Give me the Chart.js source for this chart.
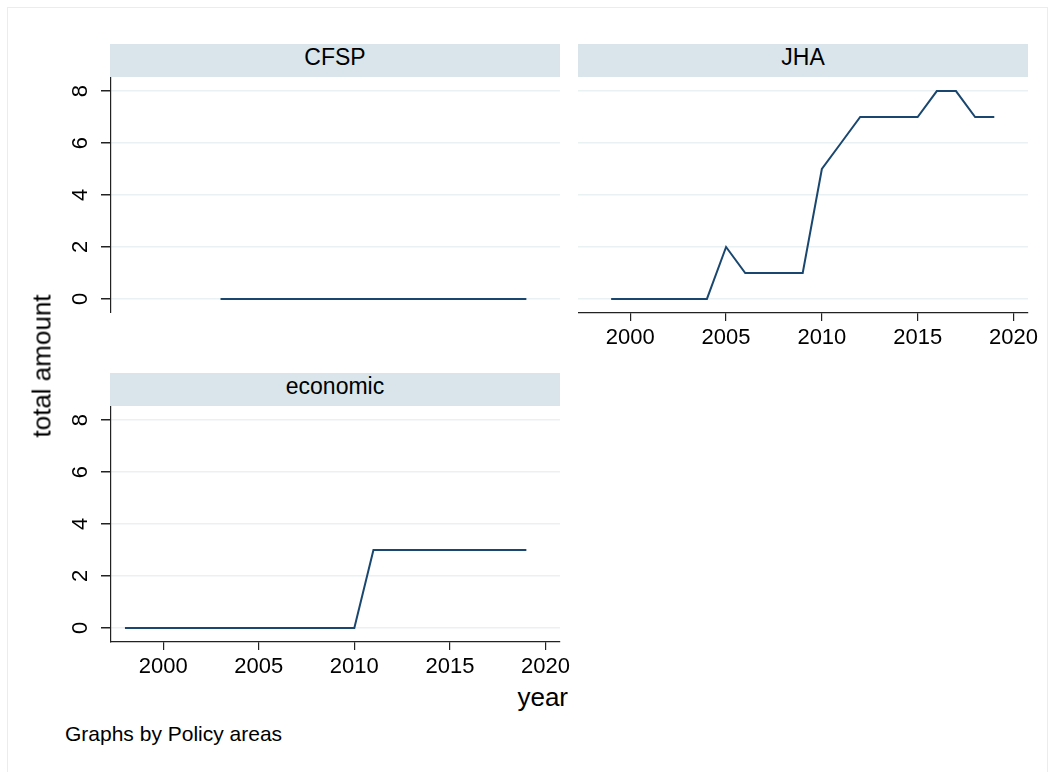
<!DOCTYPE html>
<html>
<head>
<meta charset="utf-8">
<script src="https://cdn.jsdelivr.net/npm/chart.js@4.4.1/dist/chart.umd.min.js"></script>
<style>
    body { margin: 0; background: #fff; font-family: "Liberation Sans", Arial, sans-serif; }
    #page { position: relative; width: 1053px; height: 772px; overflow: hidden; background: #fff; }
    .frame { position: absolute; left: 7px; top: 7px; width: 1039px; height: 790px; border: 1px solid #e6eef0; }
    .strip { position: absolute; height: 33px; background: #d9e5eb; color: #000; font-size: 23px; line-height: 26px; text-align: center; }
    canvas { position: absolute; }
    .txt { position: absolute; color: #000; white-space: nowrap; }
</style>
</head>
<body>
<div id="page">
    <div class="frame"></div>

    <div class="strip" style="left:110px; top:44px; width:450px;">CFSP</div>
    <div class="strip" style="left:578px; top:44px; width:450px;">JHA</div>
    <div class="strip" style="left:110px; top:373px; width:450px;">economic</div>

    <canvas id="cfspChart" width="509" height="236" style="left:51px; top:77px;"></canvas>
    <canvas id="jhaChart" width="475" height="276" style="left:578px; top:77px;"></canvas>
    <canvas id="econChart" width="534" height="276" style="left:51px; top:406px;"></canvas>

    <div class="txt" style="left:42px; top:366px; font-size:26px; transform:translate(-50%,-50%) rotate(-90deg);">total amount</div>
    <div class="txt" style="right:485px; top:682px; font-size:26px;">year</div>
    <div class="txt" style="left:65px; top:722px; font-size:21px;">Graphs by Policy areas</div>
</div>

<script>
// Datos por área (años y cantidad total)
const cfspYears = [2003, 2004, 2005, 2006, 2007, 2008, 2009, 2010, 2011, 2012, 2013, 2014, 2015, 2016, 2017, 2018, 2019];
const cfspAmount = [0, 0, 0, 0, 0, 0, 0, 0, 0, 0, 0, 0, 0, 0, 0, 0, 0];

const jhaYears = [1999, 2000, 2001, 2002, 2003, 2004, 2005, 2006, 2007, 2008, 2009, 2010, 2011, 2012, 2013, 2014, 2015, 2016, 2017, 2018, 2019];
const jhaAmount = [0, 0, 0, 0, 0, 0, 2, 1, 1, 1, 1, 5, 6, 7, 7, 7, 7, 8, 8, 7, 7];

const econYears = [1998, 1999, 2000, 2001, 2002, 2003, 2004, 2005, 2006, 2007, 2008, 2009, 2010, 2011, 2012, 2013, 2014, 2015, 2016, 2017, 2018, 2019];
const econAmount = [0, 0, 0, 0, 0, 0, 0, 0, 0, 0, 0, 0, 0, 3, 3, 3, 3, 3, 3, 3, 3, 3];

// Etiquetas de los ejes
const xTicks = [2000, 2005, 2010, 2015, 2020];
const yTicks = [0, 2, 4, 6, 8];

const FONT = '"Liberation Sans", Arial, sans-serif';
const LINE_COLOR = '#1a476f';
const GRID_COLOR = '#eaf1f3';
const AXIS_COLOR = '#222';

function toPoints(xs, ys) {
    return xs.map((x, i) => ({ x: x, y: ys[i] }));
}

// Quitar el relleno automático que Chart.js añade para las etiquetas
function noPadding(s) {
    s.paddingLeft = 0;
    s.paddingRight = 0;
    s.paddingTop = 0;
    s.paddingBottom = 0;
}

function xScale(show) {
    return {
        type: 'linear',
        display: show,
        min: 1997.27,
        max: 2020.76,
        afterBuildTicks: s => { s.ticks = xTicks.map(v => ({ value: v })); },
        afterFit: s => { s.height = show ? 40 : 0; noPadding(s); },
        grid: { drawOnChartArea: false, drawTicks: true, tickLength: 8, tickColor: AXIS_COLOR, lineWidth: 1.2 },
        border: { display: true, color: AXIS_COLOR, width: 1.2 },
        ticks: {
            font: { family: FONT, size: 22 },
            color: '#000',
            padding: 4,
            maxRotation: 0,
            callback: v => String(v)
        }
    };
}

function yScale(show) {
    return {
        type: 'linear',
        min: -0.54,
        max: 8.54,
        afterBuildTicks: s => { s.ticks = yTicks.map(v => ({ value: v })); },
        afterFit: s => { s.width = show ? 60 : 0; noPadding(s); },
        grid: { color: GRID_COLOR, lineWidth: 1.5, drawTicks: show, tickLength: 10, tickColor: AXIS_COLOR },
        border: { display: show, color: AXIS_COLOR, width: 1.2 },
        ticks: {
            display: show,
            font: { family: FONT, size: 22 },
            color: '#000',
            padding: 14,
            minRotation: 90,
            maxRotation: 90,
            crossAlign: 'center',
            callback: v => String(v)
        }
    };
}

function makePanel(id, xs, ys, showX, showY, rightPad) {
    const ctx = document.getElementById(id).getContext('2d');
    return new Chart(ctx, {
        type: 'line',
        data: {
            datasets: [{
                data: toPoints(xs, ys),
                borderColor: LINE_COLOR,
                borderWidth: 2,
                pointRadius: 0,
                tension: 0,
                fill: false
            }]
        },
        options: {
            responsive: false,
            animation: false,
            devicePixelRatio: 1,
            layout: { padding: { left: 0, top: 0, bottom: 0, right: rightPad } },
            plugins: { legend: { display: false }, tooltip: { enabled: false } },
            scales: {
                x: xScale(showX),
                y: yScale(showY)
            }
        }
    });
}

makePanel('cfspChart', cfspYears, cfspAmount, false, true, 0);
makePanel('jhaChart', jhaYears, jhaAmount, true, false, 25);
makePanel('econChart', econYears, econAmount, true, true, 25);
</script>
</body>
</html>
